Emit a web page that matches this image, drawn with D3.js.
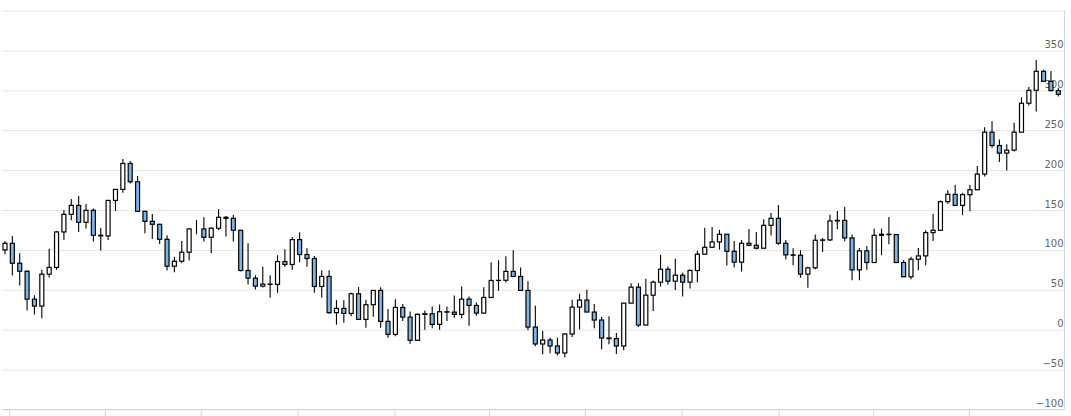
<!DOCTYPE html>
<head>
    <meta charset="utf-8">
    <script src="https://d3js.org/d3.v7.min.js"></script>
    <style>
        body { margin:0; background:#fff; }
        .grid line { stroke: #e6e6e6; stroke-width: 1; }
        .grid path { display: none; }
        .yLabels text { font-family: "DejaVu Sans", sans-serif; font-size: 10px; fill: #666; }
        .yLabels path, .yLabels line { display: none; }
        .xAxis path, .xAxis line { stroke: #ccd6eb; }
        .wick { stroke: #000; stroke-width: 1.1; }
        .body { stroke: #000; stroke-width: 1.2; }
        .up { fill: #fff; }
        .down { fill: #7cb5ec; }
    </style>
</head>

<body>
<script>
    // weekly candles, first week starting 2015-12-28
    var firstWeek = Date.UTC(2015, 11, 28);

    var opens = [
        100, 108.3, 83.3, 73.3, 38.3, 29.6, 69.6, 78, 122.5, 144.6,
        155.8, 134.6, 149.6, 118.3, 117.5, 162, 175.8, 208.3, 185.4, 148.3,
        135.8, 132.1, 113.3, 79.6, 85.8, 97.1, 126.3, 126.3, 115.8, 127.1,
        140.8, 139.6, 124.6, 74.2, 64.6, 54.6, 57.1, 56.8, 85.4, 81.7,
        112.9, 94.2, 89.2, 54.2, 66.7, 21.3, 26.7, 20.4, 45, 12.9,
        31.3, 49.2, 10.4, -5.8, 27.9, 15.8, -13.3, 19.2, 20, 6.7,
        22.5, 22, 19.2, 38.3, 30.4, 20.8, 40.4, 61.7, 61.9, 73,
        66.7, 49.2, 3.3, -17.9, -12.9, -20.4, -29.2, -5.4, 28.3, 37.1,
        22.1, 12.1, -10.4, -11.2, -20.4, 33.3, 53.3, 5.8, 43.3, 59.6,
        75.8, 60.8, 68.3, 59.6, 74.2, 94.6, 103.3, 110, 119.6, 98.3,
        84.6, 108.3, 105.8, 102.1, 130.8, 139.6, 108.3, 93.8, 93.3, 69.6,
        77.5, 112.1, 112.5, 136.3, 137, 115, 75, 98.8, 84.2, 118.3,
        119.6, 119.2, 84.2, 66.3, 88.3, 92.5, 121.7, 124.6, 160.4, 169.6,
        155.8, 169.2, 175.4, 195, 247.5, 230.8, 221.3, 225, 247.5, 283.8,
        300, 323.8, 311.3, 299.6
    ];
    var highs = [
        111.3, 117.5, 95.8, 74.2, 43.3, 75, 101.3, 123.8, 150, 163.8,
        167.5, 157.5, 152, 127.5, 162, 175.8, 213.8, 211.3, 192.5, 149.2,
        145, 132.1, 118.3, 91.3, 111.3, 127, 137.5, 140.8, 128.3, 151.3,
        142.5, 143.8, 124.6, 108.3, 68.3, 78.8, 68.3, 93.3, 100.8, 116.3,
        122, 102, 92.5, 74.6, 74.6, 37, 37, 46.7, 53.3, 37.5,
        49.2, 53.3, 25.8, 38.3, 32.1, 22.9, 20.4, 24.2, 29.2, 31.7,
        29.2, 42.9, 54.2, 41.7, 34.2, 53.3, 84.6, 87.1, 92, 99.6,
        78, 60.8, 30, -1.3, -10, -10, -4.2, 37.5, 45, 50,
        32.1, 15.8, 16.7, -4.2, 33.3, 58.3, 58.3, 63.8, 61.7, 93.8,
        79.2, 88.8, 71.3, 75.4, 98.8, 127.9, 128.8, 125, 119.6, 111.3,
        112.5, 126.3, 122.5, 138.3, 146.3, 156.3, 112.5, 102, 99.6, 78.8,
        119.2, 115, 144.2, 148.8, 153.8, 119.2, 102.5, 105, 126.7, 126.7,
        141.3, 119.2, 87.1, 91.3, 102.5, 124.6, 145.4, 162, 174.6, 181.7,
        171.7, 181.7, 205, 253.8, 261.3, 238.3, 232.5, 259.2, 291.3, 304.2,
        337.9, 325.8, 324.2, 303.3
    ];
    var lows = [
        94.6, 67.9, 55.4, 24.2, 19.2, 14.2, 65.4, 75, 112.5, 137,
        122.5, 126.7, 110.4, 99.2, 112.5, 148.8, 171.7, 183.3, 148.3, 120.8,
        113.8, 107.5, 74.2, 72.1, 83.3, 86.7, 119.6, 110.4, 95.8, 125,
        116.7, 110.4, 72.9, 56.7, 50.4, 52.9, 40, 46.3, 78.8, 75,
        84.6, 78.8, 46.3, 40, 20, 6.3, 8.8, 16.7, 12.9, 2.5,
        16.3, 2.5, -10, -8.3, 10.8, -17.5, -13.3, 0, 1.7, 0,
        10.8, 15, 14.2, 5, 17.5, 20.4, 40.4, 48.8, 59, 66.7,
        49.2, -0.8, -20.8, -30.8, -29.6, -32.1, -34.6, -9.2, 0.4, 22.1,
        1.7, -24.6, -18.3, -30.4, -25.8, 33.3, 3.3, 5.8, 23.3, 54.2,
        56.7, 49.6, 41.7, 51.7, 59.6, 94.6, 103.3, 100.4, 80.4, 77.9,
        72.9, 104.6, 100.8, 101.3, 117.9, 106.3, 87.9, 80.8, 65, 52.5,
        75.8, 97.5, 111.3, 125.8, 110.8, 62.1, 62.1, 75, 84.2, 93.3,
        107.1, 84.2, 66.3, 63.3, 74.6, 80.8, 111.3, 124.6, 157.9, 155,
        143.3, 148.3, 175.4, 192.1, 227.9, 210, 199.6, 223.3, 247.5, 280.8,
        273.3, 310.4, 298.8, 292.1
    ];
    var closes = [
        108.3, 83.3, 73.3, 38.3, 29.6, 69.6, 78, 122.5, 144.6, 155.8,
        134.6, 149.6, 118.3, 117.5, 162, 175.8, 208.3, 185.4, 148.3, 135.8,
        132.1, 113.3, 79.6, 85.8, 97.1, 126.3, 126.3, 115.8, 127.1, 140.8,
        139.6, 124.6, 74.2, 64.6, 54.6, 57.1, 56.8, 85.4, 81.7, 112.9,
        94.2, 89.2, 54.2, 66.7, 21.3, 26.7, 20.4, 45, 12.9, 31.3,
        49.2, 10.4, -5.8, 27.9, 15.8, -13.3, 19.2, 20, 6.7, 22.5,
        22, 19.2, 38.3, 30.4, 20.8, 40.4, 61.7, 61.9, 73, 66.7,
        49.2, 3.3, -17.9, -12.9, -20.4, -29.2, -5.4, 28.3, 37.1, 22.1,
        12.1, -10.4, -11.2, -20.4, 33.3, 53.3, 5.8, 43.3, 59.6, 75.8,
        60.8, 68.3, 59.6, 74.2, 94.6, 103.3, 110, 119.6, 98.3, 84.6,
        108.3, 105.8, 102.1, 130.8, 139.6, 108.3, 93.8, 93.3, 69.6, 77.5,
        112.1, 112.5, 136.3, 137, 115, 75, 98.8, 84.2, 118.3, 119.6,
        119.2, 84.2, 66.3, 88.3, 92.5, 121.7, 124.6, 160.4, 169.6, 155.8,
        169.2, 175.4, 195, 247.5, 230.8, 221.3, 225, 247.5, 283.8, 300,
        323.8, 311.3, 299.6, 295
    ];
    var yTicks = [-100, -50, 0, 50, 100, 150, 200, 250, 300, 350, 400];

    var width = 1071;
    var height = 416;
    var dayMs = 864e5;

    var data = opens.map((o, i) => ({
        date: new Date(firstWeek + i * 7 * dayMs),
        open: o, high: highs[i], low: lows[i], close: closes[i]
    }));

    var svg = d3.select("body").append("svg")
        .attr("width", width)
        .attr("height", height);

    var x = d3.scaleUtc()
        .domain([new Date(+data[0].date - 3.5 * dayMs), new Date(+data[data.length - 1].date + 3.5 * dayMs)])
        .range([1.3, 1062]);

    var y = d3.scaleLinear()
        .domain([-100, 400])
        .range([409.5, 10.5]);

    var plotLeft = 2, plotRight = 1064;

    // horizontal grid
    svg.append("g")
        .attr("class", "grid")
        .attr("transform", "translate(" + plotRight + ",0)")
        .call(d3.axisLeft(y).tickValues(yTicks).tickSize(plotRight - plotLeft).tickFormat(""));

    // y labels, sitting just above their grid line
    var yAxis = svg.append("g")
        .attr("class", "yLabels")
        .attr("transform", "translate(1063.5,0)")
        .call(d3.axisLeft(y).tickValues(yTicks.filter(d => d < 400)).tickSize(0).tickPadding(0));
    yAxis.selectAll("text").attr("dy", "-0.3em");

    // bottom axis, quarterly ticks, labels fall outside the picture
    svg.append("g")
        .attr("class", "xAxis")
        .attr("transform", "translate(0,409.5)")
        .call(d3.axisBottom(x).ticks(d3.utcMonth.every(3)).tickSize(10).tickSizeOuter(0).tickFormat(""));
    svg.select(".xAxis .domain").attr("d", "M" + plotLeft + ",0H" + plotRight);

    // right axis line
    svg.append("line")
        .attr("x1", plotRight + 0.5).attr("x2", plotRight + 0.5)
        .attr("y1", 10).attr("y2", 409.5)
        .attr("stroke", "#ccd6eb");

    var candles = svg.append("g").selectAll("g")
        .data(data)
        .enter().append("g");

    candles.append("line")
        .attr("class", "wick")
        .attr("x1", d => x(d.date)).attr("x2", d => x(d.date))
        .attr("y1", d => y(d.high)).attr("y2", d => y(d.low));

    candles.append("rect")
        .attr("class", d => "body " + (d.close >= d.open ? "up" : "down"))
        .attr("x", d => x(d.date) - 2)
        .attr("width", 4)
        .attr("y", d => y(Math.max(d.open, d.close)))
        .attr("height", d => Math.abs(y(d.open) - y(d.close)));
</script>
</body>
